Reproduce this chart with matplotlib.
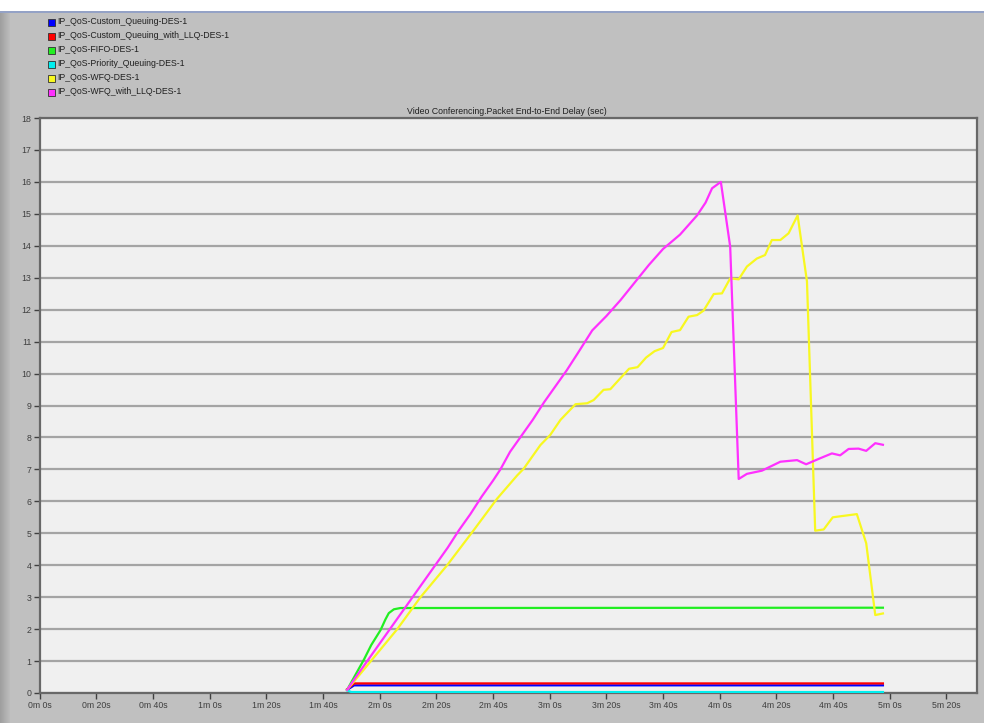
import numpy as np
import matplotlib
matplotlib.use("Agg")
import matplotlib.pyplot as plt
from matplotlib.patches import Rectangle
from matplotlib.ticker import FuncFormatter, MultipleLocator

TITLE = "Video Conferencing.Packet End-to-End Delay (sec)"

# seconds / delay (sec)
custom_t = [108.5, 111, 297.6]
custom_v = [0.10, 0.24, 0.24]

custom_llq_t = [108.5, 111, 297.6]
custom_llq_v = [0.12, 0.30, 0.30]

fifo_t = [108.5, 111, 114.4, 117, 120.3, 122, 123.2, 125, 127.3, 297.6]
fifo_v = [0.10, 0.50, 1.04, 1.50, 1.97, 2.30, 2.50, 2.62, 2.66, 2.67]

prio_t = [108.5, 110, 297.6]
prio_v = [0.08, 0.03, 0.03]

wfq_t = [108.5, 126.2, 134.4, 143.8, 153.2, 161.4, 168.5, 170.8, 176.7, 180.2,
         183.8, 189.1, 193.2, 195.5, 199, 201.4, 205, 208, 211, 214, 217, 220,
         223, 226, 229, 232, 234.3, 237.9, 240.8, 243.7, 246.7, 249.6, 253.1,
         256, 258.4, 261.4, 264.3, 267.5, 270.8, 273.7, 276.7, 279.9, 288.4,
         291.7, 294.9, 297.6]
wfq_v = [0.10, 2.00, 3.00, 4.00, 5.10, 6.08, 6.81, 7.02, 7.76, 8.08,
         8.55, 9.04, 9.07, 9.17, 9.49, 9.51, 9.86, 10.15, 10.20, 10.50, 10.70, 10.80,
         11.30, 11.36, 11.78, 11.83, 11.97, 12.49, 12.51, 12.98, 12.95, 13.35, 13.60,
         13.71, 14.18, 14.18, 14.39, 14.95, 12.88, 5.08, 5.12, 5.50, 5.60,
         4.69, 2.44, 2.49]

wfq_llq_t = [108.5, 112, 116, 120, 124, 128, 132, 136, 140, 144, 148, 152, 156,
             160, 162.6, 166, 170, 174, 178, 182, 186, 190, 195, 200, 205, 210,
             215, 220, 226, 232, 235, 237.3, 240.4, 243.7, 246.7, 249.6, 254.9,
             261.4, 267.3, 270.5, 275.5, 279.6, 282.5, 285.5, 289, 291.7, 294.9,
             297.6]
wfq_llq_v = [0.10, 0.55, 1.05, 1.55, 2.05, 2.55, 3.05, 3.55, 4.05, 4.55, 5.10, 5.60, 6.15,
             6.65, 7.00, 7.55, 8.05, 8.55, 9.10, 9.60, 10.10, 10.65, 11.35, 11.80, 12.30, 12.85,
             13.40, 13.90, 14.35, 14.95, 15.35, 15.80, 16.00, 13.97, 6.70, 6.86, 6.96,
             7.24, 7.29, 7.16, 7.35, 7.50, 7.44, 7.64, 7.65, 7.58, 7.82,
             7.77]

series_names = [
    "IP_QoS-Custom_Queuing-DES-1",
    "IP_QoS-Custom_Queuing_with_LLQ-DES-1",
    "IP_QoS-FIFO-DES-1",
    "IP_QoS-Priority_Queuing-DES-1",
    "IP_QoS-WFQ-DES-1",
    "IP_QoS-WFQ_with_LLQ-DES-1",
]
series_colors = ["#0000ff", "#ff0000", "#22ee22", "#00f0f0", "#f8f820", "#ff30ff"]
series_data = [
    (custom_t, custom_v),
    (custom_llq_t, custom_llq_v),
    (fifo_t, fifo_v),
    (prio_t, prio_v),
    (wfq_t, wfq_v),
    (wfq_llq_t, wfq_llq_v),
]

W, H = 984, 723
fig = plt.figure(figsize=(W / 100, H / 100), dpi=100, facecolor="#c0c0c0")
font = ["Liberation Sans Narrow", "Liberation Sans", "DejaVu Sans"]
plt.rcParams["font.family"] = font

# window chrome: white strip on top, darker strip on the left
fig.patches.append(Rectangle((0, (H - 11) / H), 1, 11 / H, transform=fig.transFigure,
                             facecolor="white", edgecolor="none", zorder=0))
fig.add_artist(plt.Line2D([0, 1], [(H - 12) / H] * 2, transform=fig.transFigure,
                          color="#8c9cc8", lw=1.2))
strip = fig.add_axes([0, 0, 10 / W, (H - 12.5) / H])
strip.imshow(np.linspace(0.62, 0.74, 20).reshape(1, -1), cmap="gray", vmin=0, vmax=1,
             aspect="auto", extent=[0, 1, 0, 1])
strip.axis("off")

# legend drawn as text rows
for i, (name, col) in enumerate(zip(series_names, series_colors)):
    y = (H - 22 - i * 14) / H
    fig.patches.append(Rectangle((48 / W, y - 3.5 / H), 7 / W, 7 / H, transform=fig.transFigure,
                                 facecolor=col, edgecolor="#303030", lw=0.6))
    fig.text(57 / W, y, name, fontsize=6.3, color="#202020", va="center", ha="left")

ax = fig.add_axes([39.7 / W, 30 / H, 937 / W, 575 / H])
ax.set_facecolor("#f0f0f0")
for (t, v), col in zip(series_data, series_colors):
    ax.plot(t, v, color=col, lw=1.6, solid_joinstyle="round", zorder=3)

ax.set_xlim(0, 330.7)
ax.set_ylim(0, 18)
ax.xaxis.set_major_locator(MultipleLocator(20))
ax.yaxis.set_major_locator(MultipleLocator(1))
ax.xaxis.set_major_formatter(FuncFormatter(lambda x, p: f"{int(x) // 60}m {int(x) % 60}s"))
ax.yaxis.set_major_formatter(FuncFormatter(lambda y, p: f"{int(y)}"))
ax.tick_params(labelsize=6.3, colors="#404040", length=4, width=1, direction="out", pad=2)
ax.grid(axis="y", color="#a4a4a4", lw=1.6, zorder=1)
ax.set_axisbelow(True)
for s in ax.spines.values():
    s.set_color("#686868")
    s.set_linewidth(1.6)

fig.text(507 / W, (H - 112) / H, TITLE, fontsize=6.3, color="#202020", ha="center", va="center")

fig.savefig("out.png", dpi=100, facecolor=fig.get_facecolor())
